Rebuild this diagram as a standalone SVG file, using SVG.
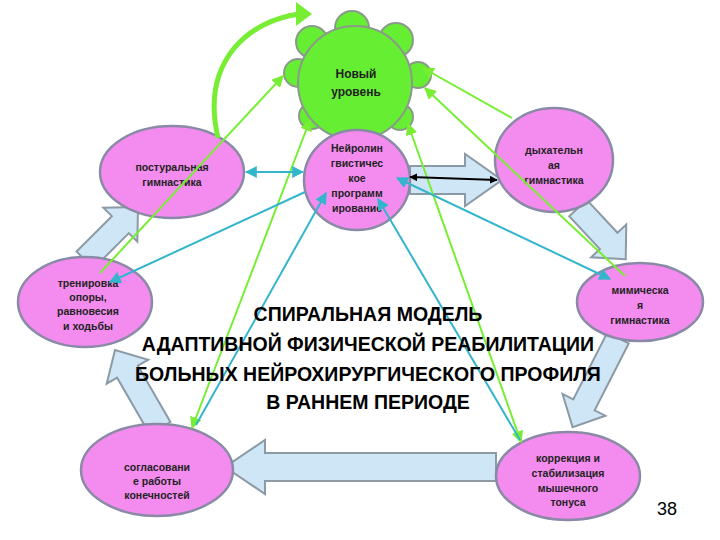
<svg xmlns="http://www.w3.org/2000/svg" width="720" height="540" viewBox="0 0 720 540">
<defs>
<style>
.n{fill:#f48cf0;stroke:#8a8aa6;stroke-width:2.5}
.g{fill:#66ee33;stroke:#8a9a8a;stroke-width:2}
.t{font-family:"Liberation Sans",Arial,sans-serif;font-size:10.5px;font-weight:bold;fill:#222;text-anchor:middle}
.ti{font-family:"Liberation Sans",Arial,sans-serif;font-size:19.5px;font-weight:bold;fill:#000;text-anchor:middle}
.ba{fill:#cfe6f7;stroke:#8c9aa6;stroke-width:2}
.gl{stroke:#77ee33;stroke-width:2;fill:none}
.cl{stroke:#33b5cc;stroke-width:2;fill:none}
</style>
<marker id="ag" viewBox="0 0 10 10" refX="9" refY="5" markerWidth="6" markerHeight="6" orient="auto-start-reverse"><path d="M0,0 L10,5 L0,10 z" fill="#77ee33"/></marker>
<marker id="ac" viewBox="0 0 10 10" refX="9" refY="5" markerWidth="6" markerHeight="6" orient="auto-start-reverse"><path d="M0,0 L10,5 L0,10 z" fill="#33b5cc"/></marker>
<marker id="ak" viewBox="0 0 10 10" refX="9" refY="5" markerWidth="4" markerHeight="4" orient="auto-start-reverse"><path d="M0,0 L10,5 L0,10 z" fill="#000"/></marker>
</defs>
<rect width="720" height="540" fill="#fff"/>
<g id="block-arrows">
<polygon class="ba" transform="translate(85,260) rotate(-45)" points="0,-12 50,-12 50,-24 75,0 50,24 50,12 0,12"/>
<polygon class="ba" points="410,166 465,166 465,154 502,180 465,206 465,194 410,194"/>
<polygon class="ba" transform="translate(578,208) rotate(47)" points="0,-12 45,-12 45,-24 70,0 45,24 45,12 0,12"/>
<polygon class="ba" transform="translate(618,338) rotate(117)" points="0,-12 75,-12 75,-24 100,0 75,24 75,12 0,12"/>
<polygon class="ba" points="496,453 265,453 265,440 225,467 265,494 265,481 496,481"/>
<polygon class="ba" transform="translate(160,428) rotate(-120)" points="0,-12 65,-12 65,-24 90,0 65,24 65,12 0,12"/>
</g>
<g id="n-new">
<circle class="g" cx="312" cy="42" r="16"/><circle class="g" cx="352" cy="28" r="17"/><circle class="g" cx="396" cy="40" r="17"/>
<circle class="g" cx="298" cy="73" r="14"/><circle class="g" cx="418" cy="75" r="13"/>
<circle class="g" cx="312" cy="116" r="13"/><circle class="g" cx="400" cy="117" r="13"/>
<circle class="g" cx="355" cy="83" r="57"/>
<text class="t" style="font-size:12px" x="356" y="78">Новый</text>
<text class="t" style="font-size:12px" x="356" y="96">уровень</text>
</g>
<g id="n-neuro">
<ellipse class="n" cx="357" cy="180" rx="53" ry="50"/>
<text class="t" x="357" y="152">Нейролин</text><text class="t" x="357" y="167">гвистичес</text><text class="t" x="357" y="182">кое</text><text class="t" x="357" y="197">программ</text><text class="t" x="357" y="212">ирование</text>
</g>
<g id="n-post">
<ellipse class="n" cx="172" cy="172" rx="72" ry="46"/>
<text class="t" x="172" y="171">постуральная</text><text class="t" x="172" y="186">гимнастика</text>
</g>
<g id="n-train">
<ellipse class="n" cx="85" cy="302" rx="67" ry="45"/>
<text class="t" x="88" y="287">тренировка</text><text class="t" x="88" y="301">опоры,</text><text class="t" x="88" y="315">равновесия</text><text class="t" x="88" y="330">и ходьбы</text>
</g>
<g id="n-breath">
<ellipse class="n" cx="554" cy="160" rx="59" ry="52"/>
<text class="t" x="554" y="154">дыхательн</text><text class="t" x="554" y="169">ая</text><text class="t" x="554" y="184">гимнастика</text>
</g>
<g id="n-mimic">
<ellipse class="n" cx="640" cy="302" rx="63" ry="39"/>
<text class="t" x="640" y="294">мимическа</text><text class="t" x="640" y="309">я</text><text class="t" x="640" y="324">гимнастика</text>
</g>
<g id="n-corr">
<ellipse class="n" cx="568" cy="476" rx="72" ry="44"/>
<text class="t" x="568" y="462">коррекция и</text><text class="t" x="568" y="477">стабилизация</text><text class="t" x="568" y="492">мышечного</text><text class="t" x="568" y="506">тонуса</text>
</g>
<g id="n-coord">
<ellipse class="n" cx="157" cy="470" rx="76" ry="46"/>
<text class="t" x="157" y="471">согласовани</text><text class="t" x="157" y="485">е работы</text><text class="t" x="157" y="499">конечностей</text>
</g>
<g id="connectors">
<path d="M218,138 C200,60 250,20 300,14" stroke="#77ee33" stroke-width="5" fill="none"/>
<polygon points="296,2 312,14 296,26" fill="#77ee33"/>
<line class="gl" x1="100" y1="273" x2="283" y2="76" marker-end="url(#ag)"/>
<line class="gl" x1="192" y1="428" x2="310" y2="120" marker-start="url(#ag)" marker-end="url(#ag)"/>
<line class="gl" x1="521" y1="442" x2="408" y2="124" marker-start="url(#ag)" marker-end="url(#ag)"/>
<line class="gl" x1="625" y1="276" x2="425" y2="88" marker-end="url(#ag)"/>
<line class="gl" x1="512" y1="118" x2="423" y2="68" marker-end="url(#ag)"/>
<line class="cl" x1="246" y1="172" x2="303" y2="172" marker-start="url(#ac)" marker-end="url(#ac)"/>
<line class="cl" x1="305" y1="192" x2="110" y2="282" marker-end="url(#ac)"/>
<line class="cl" x1="196" y1="425" x2="326" y2="193" marker-end="url(#ac)"/>
<line class="cl" x1="520" y1="440" x2="378" y2="199" marker-end="url(#ac)"/>
<line class="cl" x1="610" y1="279" x2="397" y2="178" marker-start="url(#ac)" marker-end="url(#ac)"/>
<line x1="410" y1="177" x2="497" y2="180" stroke="#000" stroke-width="2" marker-start="url(#ak)" marker-end="url(#ak)"/>
</g>
<g id="title">
<text class="ti" x="368" y="321">СПИРАЛЬНАЯ МОДЕЛЬ</text>
<text class="ti" x="368" y="351">АДАПТИВНОЙ ФИЗИЧЕСКОЙ РЕАБИЛИТАЦИИ</text>
<text class="ti" x="368" y="381">БОЛЬНЫХ НЕЙРОХИРУРГИЧЕСКОГО ПРОФИЛЯ</text>
<text class="ti" x="368" y="409">В РАННЕМ ПЕРИОДЕ</text>
<text x="667" y="515" style="font-family:'Liberation Sans',Arial,sans-serif;font-size:18px;text-anchor:middle">38</text>
</g>
</svg>
